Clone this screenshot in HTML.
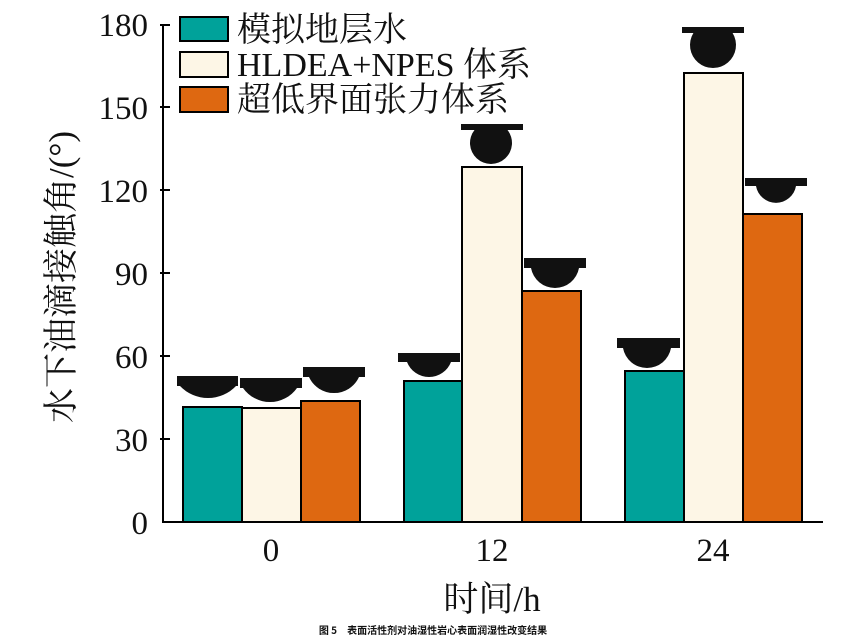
<!DOCTYPE html>
<html><head><meta charset="utf-8"><style>
body{margin:0;background:#fff}
svg{display:block}
text{font-family:"Liberation Serif","Noto Serif CJK SC",serif;fill:#111}
</style></head><body>
<svg width="856" height="636" viewBox="0 0 856 636" xmlns="http://www.w3.org/2000/svg">
<g stroke="#000" stroke-width="2">
<rect x="183" y="407" width="59" height="115" fill="#00a29a"/>
<rect x="242" y="408" width="59" height="114" fill="#fdf6e6"/>
<rect x="301" y="401" width="59" height="121" fill="#de6811"/>
<rect x="404" y="381" width="58" height="141" fill="#00a29a"/>
<rect x="462" y="167" width="60" height="355" fill="#fdf6e6"/>
<rect x="522" y="291" width="59" height="231" fill="#de6811"/>
<rect x="625" y="371" width="59" height="151" fill="#00a29a"/>
<rect x="684" y="73" width="59" height="449" fill="#fdf6e6"/>
<rect x="743" y="214" width="59" height="308" fill="#de6811"/>
</g>
<g stroke="#000" stroke-width="2" fill="none">
<line x1="163" y1="24" x2="163" y2="523"/>
<line x1="162" y1="522" x2="823" y2="522"/>
<line x1="160" y1="25" x2="170" y2="25"/>
<line x1="160" y1="107" x2="170" y2="107"/>
<line x1="160" y1="190" x2="170" y2="190"/>
<line x1="160" y1="273" x2="170" y2="273"/>
<line x1="160" y1="356" x2="170" y2="356"/>
<line x1="160" y1="439" x2="170" y2="439"/>
</g>
<g font-size="33" text-anchor="end">
<text x="148" y="36">180</text>
<text x="148" y="119">150</text>
<text x="148" y="202">120</text>
<text x="148" y="285">90</text>
<text x="148" y="368">60</text>
<text x="148" y="451">30</text>
<text x="148" y="534">0</text>
</g>
<g font-size="33" text-anchor="middle">
<text x="271" y="561">0</text>
<text x="492" y="561">12</text>
<text x="713" y="561">24</text>
<text x="492" y="611" font-size="35">时间/h</text>
<text transform="translate(73,277) rotate(-90)" font-size="35">水下油滴接触角/(°)</text>
</g>
<g stroke="#000" stroke-width="2">
<rect x="180" y="17" width="48" height="24" fill="#00a29a"/>
<rect x="180" y="52" width="48" height="25" fill="#fdf6e6"/>
<rect x="180" y="87" width="48" height="25" fill="#de6811"/>
</g>
<g font-size="34">
<text x="237" y="41">模拟地层水</text>
<text x="237" y="76">HLDEA+NPES 体系</text>
<text x="237" y="111">超低界面张力体系</text>
</g>
<g fill="#111">
<rect x="177" y="376" width="61" height="10"/>
<path d="M180 386 A38.7 38.7 0 0 0 236 386 Z"/>
<rect x="240" y="378" width="62" height="10"/>
<path d="M243 388 A33 33 0 0 0 297 388 Z"/>
<rect x="303" y="367" width="62" height="10"/>
<path d="M309 377 A27.5 27.5 0 0 0 359 377 Z"/>
<rect x="398" y="353" width="62" height="9"/>
<path d="M407 362 A23.6 23.6 0 0 0 451 362 Z"/>
<rect x="461" y="124" width="62" height="6"/>
<path d="M474.5 130 A21 21 0 1 0 507.5 130 Z"/>
<rect x="524" y="258" width="62" height="10"/>
<path d="M531 268 A24.4 24.4 0 0 0 579 268 Z"/>
<rect x="617" y="338" width="63" height="10"/>
<path d="M623 348 A24.4 24.4 0 0 0 671 348 Z"/>
<rect x="682" y="27" width="62" height="6"/>
<path d="M693.4 33 A23 23 0 1 0 732.6 33 Z"/>
<rect x="745" y="178" width="62" height="8"/>
<path d="M756 186 A20.3 20.3 0 0 0 796 186 Z"/>
</g>
<text x="433" y="634" font-size="10" font-weight="bold" text-anchor="middle" style="font-family:'Noto Sans CJK SC',sans-serif">图 5　表面活性剂对油湿性岩心表面润湿性改变结果</text>
</svg>
</body></html>
